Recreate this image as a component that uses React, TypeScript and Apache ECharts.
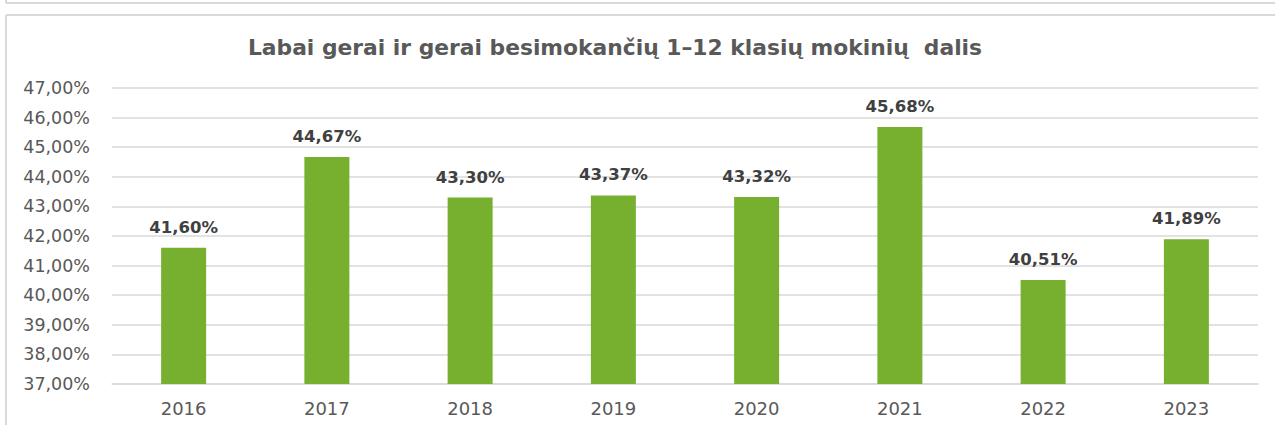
import React, { useEffect, useRef } from "react";
import * as echarts from "echarts";

const TITLE = "Labai gerai ir gerai besimokančių 1–12 klasių mokinių  dalis";
const YEARS = ["2016", "2017", "2018", "2019", "2020", "2021", "2022", "2023"];
const SHARES = [41.6, 44.67, 43.3, 43.37, 43.32, 45.68, 40.51, 41.89];
const Y_MIN = 37;
const Y_MAX = 47;
const Y_STEP = 1;

const fmt = (v: number) => v.toFixed(2).replace(".", ",") + "%";

export default function App() {
  const ref = useRef<HTMLDivElement>(null);
  useEffect(() => {
    document.body.style.margin = "0";
    if (!ref.current) return;
    const chart = echarts.init(ref.current, undefined, { renderer: "svg" });
    const font = "'DejaVu Sans', sans-serif";
    chart.setOption({
      animation: false,
      backgroundColor: "#ffffff",
      textStyle: { fontFamily: font },
      title: {
        text: TITLE,
        left: 610,
        top: 31,
        textAlign: "center",
        textStyle: { fontFamily: font, fontSize: 21.8, fontWeight: "bold", color: "#595959" },
      },
      graphic: [
        { type: "line", shape: { x1: 6, y1: 3, x2: 1275, y2: 3 }, style: { stroke: "#d9d9d9", lineWidth: 2 } },
        { type: "line", shape: { x1: 6, y1: 0, x2: 6, y2: 3 }, style: { stroke: "#d9d9d9", lineWidth: 2 } },
        { type: "line", shape: { x1: 6, y1: 15, x2: 1275, y2: 15 }, style: { stroke: "#d9d9d9", lineWidth: 2 } },
        { type: "line", shape: { x1: 6, y1: 15, x2: 6, y2: 425 }, style: { stroke: "#d9d9d9", lineWidth: 2 } },
      ],
      grid: { left: 112, right: 17, top: 88, bottom: 41, containLabel: false },
      xAxis: {
        type: "category",
        data: YEARS,
        axisLine: { lineStyle: { color: "#d9d9d9", width: 1.5 } },
        axisTick: { show: false },
        axisLabel: { color: "#595959", fontSize: 18, margin: 15, fontFamily: font },
      },
      yAxis: {
        type: "value",
        min: Y_MIN,
        max: Y_MAX,
        interval: Y_STEP,
        axisLine: { show: false },
        axisTick: { show: false },
        splitLine: { lineStyle: { color: "#d9d9d9", width: 1.5 } },
        axisLabel: { color: "#595959", fontSize: 17.5, margin: 22, fontFamily: font, formatter: (v: number) => fmt(v) },
      },
      series: [
        {
          type: "bar",
          data: SHARES,
          barWidth: 45,
          itemStyle: { color: "#77b02f" },
          label: {
            show: true,
            position: "top",
            distance: 12,
            color: "#404040",
            fontWeight: "bold",
            fontSize: 16.5,
            fontFamily: font,
            formatter: (p: any) => fmt(p.value),
          },
        },
      ],
    });
    return () => chart.dispose();
  }, []);
  return <div ref={ref} style={{ width: 1275, height: 425 }} />;
}
